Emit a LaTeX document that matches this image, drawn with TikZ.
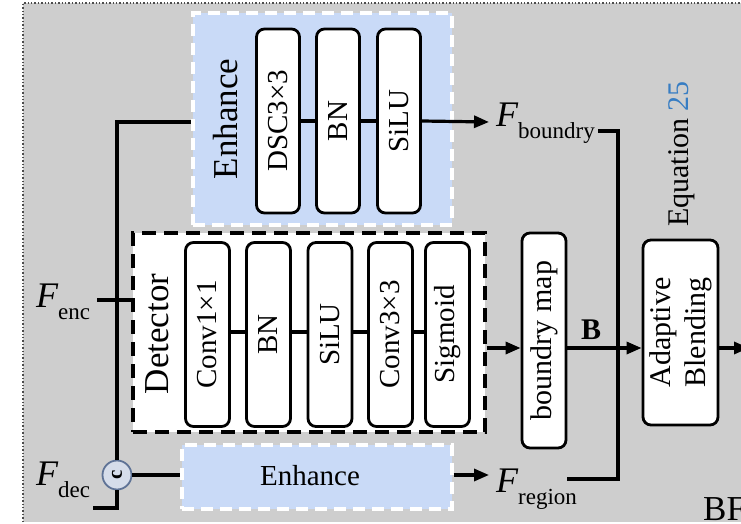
\documentclass[tikz,border=0pt]{standalone}
\usepackage{fontspec}
\setmainfont{Liberation Serif}
\usetikzlibrary{arrows.meta}
\definecolor{bggray}{RGB}{206,206,206}
\definecolor{eblue}{RGB}{201,218,247}
\definecolor{eqblue}{RGB}{55,125,195}
\definecolor{cborder}{RGB}{95,115,150}
\definecolor{cfill}{RGB}{214,221,234}
\newcommand{\fsz}[1]{\fontsize{#1}{#1}\selectfont}
\newcommand{\Fsym}[1]{{\fsz{36}\itshape F}\raisebox{-12pt}{\fsz{23}#1}}
\begin{document}
\begin{tikzpicture}[x=1pt,y=-1pt,
  box/.style={draw, line width=2.8pt, rounded corners=8pt, fill=white, inner sep=0pt},
  lbl/.style={rotate=90, font=\fsz{29}, inner sep=0pt},
  conn/.style={line width=3.2pt},
  arr/.style={line width=3.2pt, -{Triangle[length=15pt,width=12pt]}},
  enh/.style={fill=eblue, draw=white, line width=3.2pt, dash pattern=on 12pt off 7pt},
  ftext/.style={anchor=base west, inner sep=0pt}
  ]
\useasboundingbox (0,0) rectangle (741,524);
\fill[bggray] (23,3) rectangle (745,522);
\draw[dotted, line width=1.4pt, black!70] (23,522) -- (23,3) -- (741,3);

% top Enhance
\node[enh, minimum width=259pt, minimum height=212pt, inner sep=0pt] (enhT) at (322.5,119) {};
\node[rotate=90, font=\fsz{35}, inner sep=0pt] (enhTl) at (226,119) {Enhance};
\node[box, minimum width=43pt, minimum height=184pt] (dsc) at (278,121) {};
\node[lbl] at (dsc) {DSC3×3};
\node[box, minimum width=43pt, minimum height=184pt] (bnT) at (338,121) {};
\node[lbl] at (bnT) {BN};
\node[box, minimum width=43pt, minimum height=184pt] (siluT) at (399,121) {};
\node[lbl] at (siluT) {SiLU};
\draw[conn] (dsc.east) -- (bnT.west);
\draw[conn] (bnT.east) -- (siluT.west);

% detector
\node[draw, fill=white, line width=3.8pt, dash pattern=on 14pt off 8pt, minimum width=352pt, minimum height=199pt, inner sep=0pt] (det) at (309,332.5) {};
\node[rotate=90, font=\fsz{35}, inner sep=0pt] at (157,334) {Detector};
\node[box, minimum width=44pt, minimum height=184pt] (c1) at (207.5,334.5) {};
\node[lbl] at (c1) {Conv1×1};
\node[box, minimum width=44pt, minimum height=184pt] (bnD) at (268.5,334.5) {};
\node[lbl] at (bnD) {BN};
\node[box, minimum width=44pt, minimum height=184pt] (siluD) at (330,334.5) {};
\node[lbl] at (siluD) {SiLU};
\node[box, minimum width=44pt, minimum height=184pt] (c3) at (390.5,334.5) {};
\node[lbl] at (c3) {Conv3×3};
\node[box, minimum width=44pt, minimum height=184pt] (sig) at (447.5,334.5) {};
\node[lbl] at (sig) {Sigmoid};
\draw[conn] (c1.east |- 0,332) -- (bnD.west |- 0,332);
\draw[conn] (bnD.east |- 0,332) -- (siluD.west |- 0,332);
\draw[conn] (siluD.east |- 0,332) -- (c3.west |- 0,332);
\draw[conn] (c3.east |- 0,332) -- (sig.west |- 0,332);

% bottom Enhance
\node[enh, minimum width=270pt, minimum height=64pt, inner sep=0pt] (enhB) at (317,477) {};
\node[font=\fsz{29}, inner sep=0pt] at (310,476) {Enhance};

% boundry map
\node[box, minimum width=44pt, minimum height=215pt] (bmap) at (544,340.5) {};
\node[lbl, font=\fsz{30}] at (bmap) {boundry map};

% adaptive blending
\node[box, minimum width=75pt, minimum height=185pt] (ab) at (680.5,332.5) {};
\node[rotate=90, align=center, font=\fontsize{30}{35}\selectfont, inner sep=0pt] at (ab) {Adaptive\\Blending};
\node[rotate=90, font=\fsz{30}, inner sep=0pt] at (682,154) {Equation \textcolor{eqblue}{25}};

% inputs
\node[ftext] (fenc) at (36,307) {\Fsym{enc}};
\node[ftext] (fdec) at (36,485) {\Fsym{dec}};
\node[circle, draw=cborder, fill=cfill, line width=1.8pt, minimum size=29pt, inner sep=0pt] (cat) at (117,475) {\rotatebox{90}{\bfseries\fsz{21}c}};
\coordinate (vtop) at (117,122);
\coordinate (encL) at (97,300);
\coordinate (decL) at (93,508);
\draw[conn] (cat.north) -- (vtop) -- (enhT.west |- vtop);
\draw[conn] (encL) -- (det.west |- encL);
\draw[conn] (decL) -- (cat.south |- decL) -- (cat.south);
\draw[conn] (cat.east) -- (enhB.west |- cat.east);

% outputs
\node[ftext] (fbnd) at (496,127) {\Fsym{boundry}};
\node[ftext] (freg) at (496,492) {\Fsym{region}};
\coordinate (fbtip) at (489,122);
\coordinate (frtip) at (489,475);
\draw[arr] (siluT.east) -- (fbtip);
\draw[arr] (enhB.east |- frtip) -- (frtip);

\coordinate (bndR) at (598,131);
\coordinate (vcorner) at (618,131);
\coordinate (vbot) at (618,479);
\coordinate (regR) at (567,479);
\draw[conn] (bndR) -- (vcorner) -- (vbot) -- (regR);

\coordinate (mid) at (0,348);
\draw[arr] (det.east |- mid) -- (bmap.west |- mid);
\draw[arr] (bmap.east |- mid) -- (ab.west |- mid);
\node[font=\bfseries\fsz{30}, inner sep=0pt] at (591,330) {B};
\coordinate (outtip) at (749,348);
\draw[arr] (ab.east |- mid) -- (outtip);

\node[ftext, font=\fsz{35}] at (703,520) {BF};
\end{tikzpicture}
\end{document}
